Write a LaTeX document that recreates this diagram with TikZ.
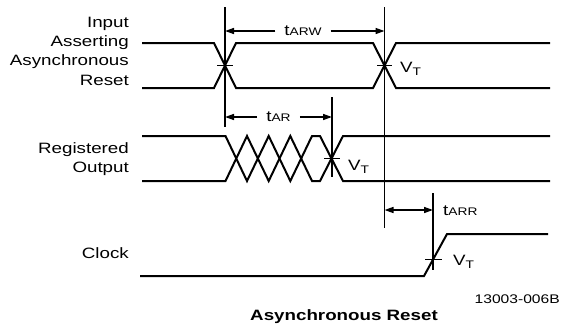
\documentclass[tikz,border=0pt]{standalone}
\usepackage{fontspec}
\setmainfont[FakeStretch=1.25]{Liberation Sans}
\usepackage{tikz}
\usetikzlibrary{arrows.meta, positioning}
\newcommand{\thresh}{V\raisebox{-2.5pt}{\fontsize{11}{12}\selectfont T}}
\newcommand{\tparam}[1]{t{\fontsize{11}{12}\selectfont #1}}

\begin{document}
\begin{tikzpicture}[x=1pt,y=-1pt,
    signal/.style={line width=2pt},
    edge/.style={line width=1.5pt},
    dimarrow/.style={line width=1.5pt,-{Triangle[length=9pt,width=6pt]}},
    dimboth/.style={line width=1.5pt,{Triangle[length=9pt,width=6pt]}-{Triangle[length=9pt,width=6pt]}},
    siglabel/.style={font=\fontsize{15}{19.3}\selectfont,align=right,anchor=east,inner sep=0pt},
    dimlabel/.style={font=\fontsize{15}{18}\selectfont,inner xsep=9pt,inner ysep=0pt},
    vtlabel/.style={font=\fontsize{15}{18}\selectfont,anchor=west,inner sep=0pt}]
    \useasboundingbox (0,0) rectangle (561,327);

    % Signal names
    \node[siglabel] (inlbl) at (129,51) {Input\\Asserting\\Asynchronous\\Reset};
    \node[siglabel] (reglbl) at (129,159) {Registered\\Output};
    \node[siglabel] (clklbl) at (129,253) {Clock};

    % Input asserting asynchronous reset
    \draw[signal] (142,43) -- (214,43) -- (236,88) -- (373,88) -- (396,43) -- (550,43);
    \draw[signal] (142,88) -- (214,88) -- (236,43) -- (373,43) -- (396,88) -- (550,88);
    \draw[edge] (217,65.5) -- (233,65.5);
    \draw[edge] (377,65.5) -- (392,65.5);
    \node[vtlabel] (vtin) at (400,69) {\thresh};

    % Registered output
    \draw[signal] (142,136) -- (225.5,136) -- (247,181) -- (268.7,136) -- (290.3,181) -- (312,136)
        -- (320,136) -- (343,181) -- (550,181);
    \draw[signal] (142,181) -- (225.5,181) -- (247,136) -- (268.7,181) -- (290.3,136) -- (312,181)
        -- (320,181) -- (343,136) -- (550,136);
    \draw[edge] (324,158.5) -- (340,158.5);
    \node[vtlabel] (vtreg) at (348,167) {\thresh};

    % Clock
    \draw[signal] (140,276) -- (424,276) -- (447,234) -- (548,234);
    \draw[edge] (425,259.5) -- (442,259.5);
    \node[vtlabel] (vtclk) at (453,262) {\thresh};

    % Timing reference lines
    \draw[edge] (225,7) -- (225,127);
    \draw[edge] (384.5,7) -- (384.5,228);
    \draw[edge] (332,97) -- (332,177);
    \draw[edge] (433,193) -- (433,270);

    % Timing parameters
    \coordinate (arwL) at (225,31);
    \coordinate (arwR) at (384.5,31);
    \node[dimlabel] (tarw) at (303,31) {\tparam{ARW}};
    \draw[dimarrow] (tarw.west) -- (arwL);
    \draw[dimarrow] (tarw.east) -- (arwR);

    \coordinate (arL) at (225,117);
    \coordinate (arR) at (332,117);
    \node[dimlabel] (tar) at (278.5,117) {\tparam{AR}};
    \draw[dimarrow] (tar.west) -- (arL);
    \draw[dimarrow] (tar.east) -- (arR);

    \coordinate (arrL) at (384.5,210);
    \coordinate (arrR) at (433,210);
    \draw[dimboth] (arrL) -- (arrR);
    \node[dimlabel,anchor=west,inner xsep=0pt] (tarr) at (443,211) {\tparam{ARR}};

    % Figure number and caption
    \node[anchor=east,inner sep=0pt,font=\fontsize{12.5}{14}\selectfont] (fignum) at (560,299) {13003-006B};
    \node[inner sep=0pt,font=\fontsize{15}{18}\selectfont\bfseries] (caption) at (344,317) {Asynchronous Reset};
\end{tikzpicture}
\end{document}
